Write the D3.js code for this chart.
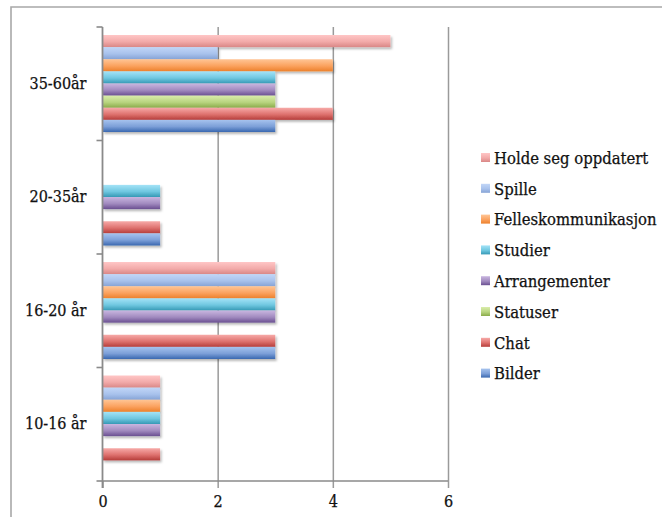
<!DOCTYPE html>
<html>
<head>
<meta charset="utf-8">
<script src="https://cdn.jsdelivr.net/npm/d3@7"></script>
<style>
  html, body { margin: 0; padding: 0; background: #fff; }
  svg { display: block; }
  text { font-family: "DejaVu Serif", "Liberation Serif", serif; font-stretch: condensed; fill: #111; stroke: #111; stroke-width: 0.25px; }
</style>
</head>
<body>
<svg id="chart" width="662" height="517"></svg>
<script>
// Age groups, top to bottom
const categories = ["35-60år", "20-35år", "16-20 år", "10-16 år"];
// Series, top to bottom within each group
const seriesNames = ["Holde seg oppdatert", "Spille", "Felleskommunikasjon", "Studier", "Arrangementer", "Statuser", "Chat", "Bilder"];
// Values per series, ordered as categories
const holde        = [5, 0, 3, 1];
const spille       = [2, 0, 3, 1];
const felles       = [4, 0, 3, 1];
const studier      = [3, 1, 3, 1];
const arrangementer= [3, 1, 3, 1];
const statuser     = [3, 0, 0, 0];
const chat         = [4, 1, 3, 1];
const bilder       = [3, 1, 3, 0];
const xTicks = [0, 2, 4, 6];

const seriesValues = [holde, spille, felles, studier, arrangementer, statuser, chat, bilder];

// light / mid / dark shades for each series gradient
const palette = [
  ["#ffc6c6", "#f2aaa9", "#d98786"],
  ["#c2d6f7", "#a8c2ec", "#86a3d5"],
  ["#ffc595", "#fba25f", "#ec802b"],
  ["#a4e3f7", "#6fc7e0", "#3699b5"],
  ["#c9b6e0", "#a18abf", "#6a4f91"],
  ["#daedab", "#b8d47f", "#8aab4a"],
  ["#f7aaa8", "#de716e", "#b53d3a"],
  ["#a6c3ee", "#7c9fd8", "#3a68b0"]
];

const svg = d3.select("#chart");
const defs = svg.append("defs");

palette.forEach((c, i) => {
  const g = defs.append("linearGradient")
    .attr("id", "grad" + i).attr("x1", 0).attr("y1", 0).attr("x2", 0).attr("y2", 1);
  g.append("stop").attr("offset", "0%").attr("stop-color", c[0]);
  g.append("stop").attr("offset", "55%").attr("stop-color", c[1]);
  g.append("stop").attr("offset", "100%").attr("stop-color", c[2]);
});

const shadow = defs.append("filter").attr("id", "shadow")
  .attr("x", "-5%").attr("y", "-30%").attr("width", "115%").attr("height", "180%");
shadow.append("feDropShadow").attr("dx", 1.5).attr("dy", 2).attr("stdDeviation", 1.2)
  .attr("flood-color", "#000").attr("flood-opacity", 0.28);

// Outer frame
svg.append("path")
  .attr("d", "M11,517 L11,7 L662,7")
  .attr("fill", "none").attr("stroke", "#a8a8a8").attr("stroke-width", 1.6);

const x = d3.scaleLinear().domain([0, 6]).range([102.5, 448]);
const y = d3.scaleBand().domain(categories).range([27, 481]).padding(0);
const ySeries = d3.scaleBand().domain(seriesNames).range([8, y.bandwidth() - 8.5]).padding(0);

// Vertical gridlines and x ticks
const xAxis = d3.axisBottom(x).tickValues(xTicks).tickSize(-(481 - 27)).tickPadding(12)
  .tickFormat(d3.format("d"));
const gx = svg.append("g").attr("transform", "translate(0,481)").call(xAxis);
gx.select(".domain").remove();
gx.selectAll(".tick line").attr("stroke", "#9a9a9a").attr("stroke-width", 1.5)
  .attr("y2", -(481 - 27)).attr("y1", 7);
gx.selectAll(".tick").filter(d => d === 0).select("line").attr("y2", 0);
gx.selectAll(".tick text").attr("font-size", 16).attr("fill", "#111").attr("dy", "0.9em")
  .style("font-family", "\"DejaVu Serif\", serif");

// Bars
const groups = svg.append("g").selectAll("g").data(categories).join("g")
  .attr("transform", d => `translate(0,${y(d)})`);

groups.selectAll("rect")
  .data((c, ci) => seriesNames.map((s, si) => ({ s, si, v: seriesValues[si][ci] })).filter(d => d.v > 0))
  .join("rect")
  .attr("x", x(0))
  .attr("y", d => ySeries(d.s))
  .attr("width", d => x(d.v) - x(0))
  .attr("height", ySeries.bandwidth())
  .attr("fill", d => `url(#grad${d.si})`)
  .attr("filter", "url(#shadow)");

// Category axis
const yAxis = d3.axisLeft(y).tickSize(0).tickPadding(16);
const gy = svg.append("g").attr("transform", `translate(${x(0)},0)`).call(yAxis);
gy.select(".domain").remove();
gy.selectAll(".tick text").attr("font-size", 16).attr("fill", "#111")
  .style("font-family", "\"DejaVu Serif\", serif");

// Axis lines and boundary ticks
const bounds = categories.map(c => y(c)).concat([481]);
svg.append("g").selectAll("line").data(bounds).join("line")
  .attr("x1", x(0) - 6).attr("x2", x(0)).attr("y1", d => d).attr("y2", d => d)
  .attr("stroke", "#8a8a8a").attr("stroke-width", 1.6);
svg.append("line").attr("x1", x(0)).attr("x2", x(0)).attr("y1", 27).attr("y2", 488)
  .attr("stroke", "#8a8a8a").attr("stroke-width", 1.8);
svg.append("line").attr("x1", x(0)).attr("x2", x(6)).attr("y1", 481).attr("y2", 481)
  .attr("stroke", "#8a8a8a").attr("stroke-width", 1.6);

// Legend
const legend = svg.append("g").attr("transform", "translate(481,158)");
const items = legend.selectAll("g").data(seriesNames).join("g")
  .attr("transform", (d, i) => `translate(0,${i * 30.8})`);
items.append("rect").attr("x", 0).attr("y", -5).attr("width", 9).attr("height", 9)
  .attr("fill", (d, i) => `url(#grad${i})`);
items.append("text").attr("x", 13).attr("y", 0).attr("dy", "0.35em")
  .attr("font-size", 16.5).text(d => d);
</script>
</body>
</html>
